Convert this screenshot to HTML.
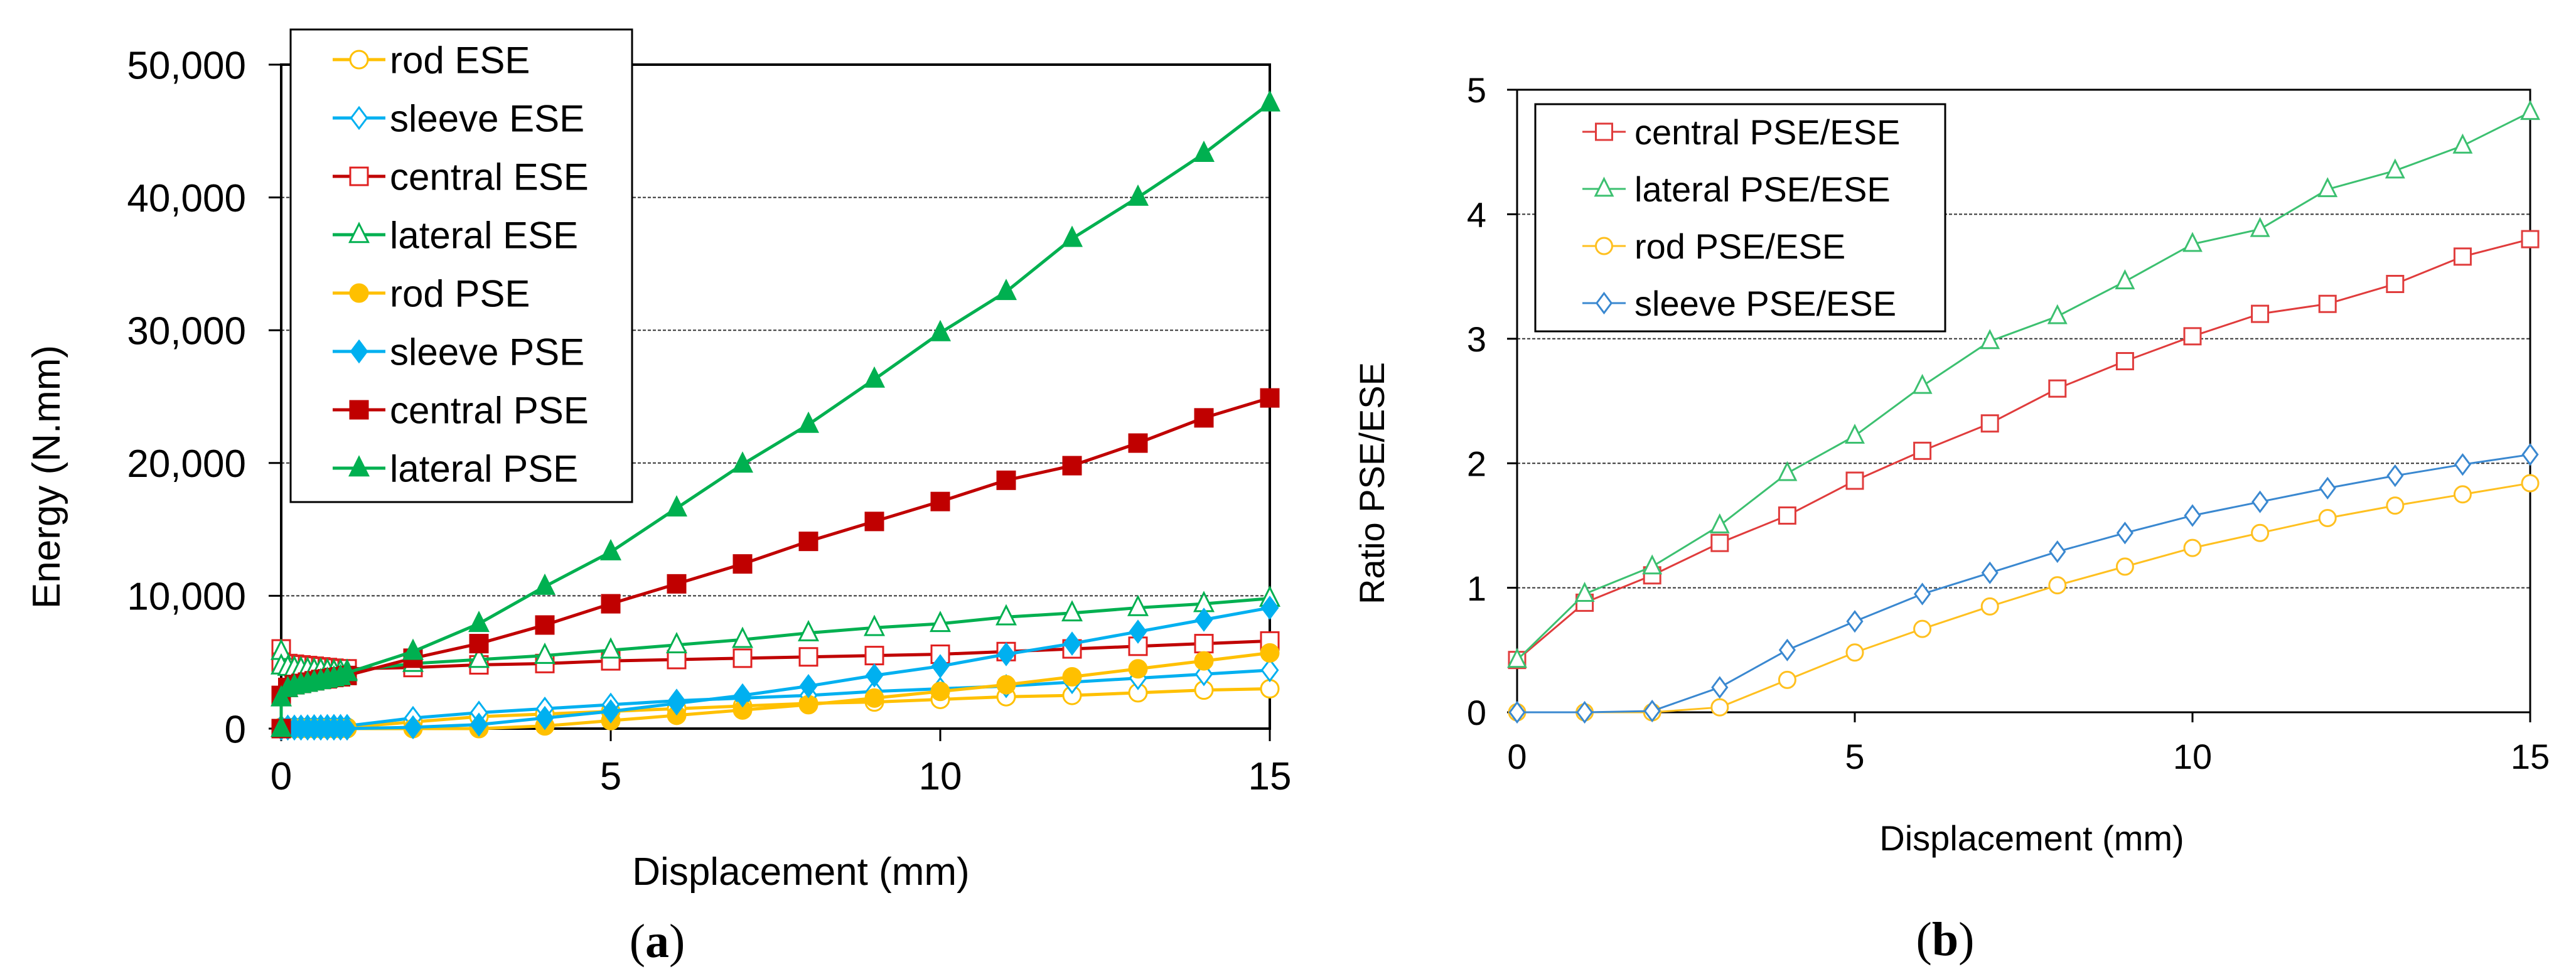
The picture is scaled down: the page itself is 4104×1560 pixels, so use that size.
<!DOCTYPE html>
<html><head><meta charset="utf-8"><style>
html,body{margin:0;padding:0;background:#fff;}
svg{display:block;font-family:"Liberation Sans",Arial,sans-serif;}
</style></head><body>
<svg id="fig" width="4104" height="1560" viewBox="0 0 4104 1560" xmlns="http://www.w3.org/2000/svg">
<g id="chartA"></g>
<g id="chartB"></g>
<text x="1047" y="1525" font-family="Liberation Serif,serif" font-size="76" text-anchor="middle">(<tspan font-weight="bold">a</tspan>)</text>
<text x="3099" y="1522" font-family="Liberation Serif,serif" font-size="76" text-anchor="middle">(<tspan font-weight="bold">b</tspan>)</text>
</svg>
<script>
// ---- Chart A data ----
const xA = [0,0,0.1,0.2,0.3,0.4,0.5,0.6,0.7,0.8,0.9,1,2,3,4,5,6,7,8,9,10,11,12,13,14,15];
const rodESE     = [0,100,100,100,100,100,100,100,100,100,100,100,500,900,1100,1300,1500,1700,1900,2000,2200,2400,2500,2700,2900,3000];
const sleeveESE  = [0,150,150,150,160,170,180,180,190,200,200,200,800,1200,1500,1800,2100,2300,2500,2800,3000,3200,3500,3800,4100,4400];
const centralESE = [6000,5000,4900,4850,4800,4750,4700,4650,4600,4550,4500,4500,4600,4800,4900,5100,5200,5300,5400,5500,5600,5800,6000,6200,6400,6600];
const lateralESE = [5800,4700,4600,4550,4500,4450,4400,4400,4350,4300,4300,4300,4900,5200,5500,5900,6300,6700,7200,7600,7900,8400,8700,9100,9400,9800];
const rodPSE     = [0,0,0,0,0,0,0,0,0,0,0,0,0,0,200,600,1000,1400,1800,2300,2800,3300,3900,4500,5100,5700];
const sleevePSE  = [0,0,0,0,0,0,0,0,0,0,0,0,100,300,800,1300,1900,2500,3200,4000,4700,5600,6400,7300,8200,9100];
const centralPSE = [0,2500,3100,3300,3400,3500,3600,3700,3750,3850,3900,4000,5300,6400,7800,9400,10900,12400,14100,15600,17100,18700,19800,21500,23400,24900];
const lateralPSE = [0,2300,3000,3200,3300,3400,3500,3600,3700,3800,3900,4200,5800,7900,10700,13300,16600,19900,22900,26300,29800,32900,36900,40000,43300,47100];
const yTicksA = ["0","10,000","20,000","30,000","40,000","50,000"];
const yTickValsA = [0,10000,20000,30000,40000,50000];
const xTicksA = [0,5,10,15];
// ---- Chart B data ----
const xB = [0,1,2,3,4,5,6,7,8,9,10,11,12,13,14,15];
const centralRatio = [0.42,0.88,1.1,1.36,1.58,1.86,2.1,2.32,2.6,2.82,3.02,3.2,3.28,3.44,3.66,3.8];
const lateralRatio = [0.42,0.95,1.17,1.5,1.92,2.22,2.62,2.98,3.18,3.46,3.76,3.88,4.2,4.35,4.55,4.82];
const rodRatio     = [0,0,0,0.04,0.26,0.48,0.67,0.85,1.02,1.17,1.32,1.44,1.56,1.66,1.75,1.84];
const sleeveRatio  = [0,0,0.01,0.2,0.5,0.73,0.95,1.12,1.29,1.44,1.58,1.69,1.8,1.9,1.99,2.07];
const yTicksB = [0,1,2,3,4,5];
const xTicksB = [0,5,10,15];

const NS="http://www.w3.org/2000/svg";
function mk(parent,tag,attrs){const e=document.createElementNS(NS,tag);for(const k in attrs)e.setAttribute(k,attrs[k]);parent.appendChild(e);return e;}

function marker(g,shape,cx,cy,s,color,filled,sw){
  let e;
  const fill=filled?color:"#fff";
  if(shape==="circle"){e=mk(g,"circle",{cx:cx,cy:cy,r:s/2,fill:fill,stroke:color,"stroke-width":sw});}
  else if(shape==="square"){e=mk(g,"rect",{x:cx-s/2,y:cy-s/2,width:s,height:s,fill:fill,stroke:color,"stroke-width":sw});}
  else if(shape==="diamond"){e=mk(g,"polygon",{points:`${cx},${cy-s*0.6} ${cx+s*0.45},${cy} ${cx},${cy+s*0.6} ${cx-s*0.45},${cy}`,fill:fill,stroke:color,"stroke-width":sw});}
  else {e=mk(g,"polygon",{points:`${cx},${cy-s*0.62} ${cx+s*0.52},${cy+s*0.42} ${cx-s*0.52},${cy+s*0.42}`,fill:fill,stroke:color,"stroke-width":sw});}
  
  
  return e;
}

function drawChart(root,cfg){
  const {L,R,T,B,xMax,yMax}=cfg;
  const sx=v=>L+(R-L)*v/xMax, sy=v=>B-(B-T)*v/yMax;
  // grid
  cfg.yVals.forEach((v,i)=>{
    const y=sy(v);
    if(v>0&&v<yMax){const gl=mk(root,"line",{x1:L,x2:R,y1:y,y2:y,stroke:"#333","stroke-width":2,"stroke-dasharray":"5,3"});
      
      }
    const tk=mk(root,"line",{x1:L-cfg.tick,x2:L,y1:y,y2:y,stroke:"#000","stroke-width":3});
    
    
    const t=mk(root,"text",{x:cfg.yLabelX,y:y+cfg.yFont*0.36,"font-size":cfg.yFont,"text-anchor":"end",fill:"#000"});
    t.textContent=cfg.yLabels[i];
    
    
  });
  const frame=mk(root,"rect",{x:L,y:T,width:R-L,height:B-T,fill:"none",stroke:"#000","stroke-width":cfg.frameW});
  
  
  cfg.xTicks.forEach(v=>{
    const x=sx(v);
    const tk=mk(root,"line",{x1:x,x2:x,y1:B,y2:B+cfg.tick,stroke:"#000","stroke-width":3});
    
    
    const t=mk(root,"text",{x:x,y:cfg.xLabelY,"font-size":cfg.xFont,"text-anchor":"middle"});
    t.textContent=String(v);
    
    
  });
  // series
  cfg.series.forEach(s=>{
    const g=mk(root,"g",{});
    
    
    const pts=s.y.map((v,i)=>sx(s.x[i])+","+sy(v)).join(" ");
    const pl=mk(g,"polyline",{points:pts,fill:"none",stroke:s.color,"stroke-width":cfg.lineW,"stroke-linejoin":"round"});
    
    
    s.y.forEach((v,i)=>marker(g,s.shape,sx(s.x[i]),sy(v),cfg.ms,s.mcolor||s.color,s.filled,cfg.msw));
  });
  // legend
  const lg=mk(root,"g",{});
  
  
  const lb=mk(lg,"rect",{x:cfg.lg.x,y:cfg.lg.y,width:cfg.lg.w,height:cfg.lg.h,fill:"#fff",stroke:"#000","stroke-width":3});
  
  
  cfg.series.forEach((s,i)=>{
    const y=cfg.lg.y0+i*cfg.lg.dy;
    const e=mk(lg,"g",{});
    
    
    mk(e,"line",{x1:cfg.lg.lx1,x2:cfg.lg.lx2,y1:y,y2:y,stroke:s.color,"stroke-width":cfg.lineW});
    marker(e,s.shape,(cfg.lg.lx1+cfg.lg.lx2)/2,y,cfg.ms,s.mcolor||s.color,s.filled,cfg.msw);
    const t=mk(e,"text",{x:cfg.lg.tx,y:y+cfg.lg.font*0.36,"font-size":cfg.lg.font,"font-family":"Liberation Sans Narrow,Liberation Sans,sans-serif"});
    t.textContent=s.name;
    
    
  });
  // axis titles
  const xt=mk(root,"text",{x:cfg.xTitle[0],y:cfg.xTitle[1],"font-size":cfg.titleFont,"text-anchor":"middle","font-family":"Liberation Sans Narrow,Liberation Sans,sans-serif"});
  xt.textContent="Displacement (mm)";
  
  
  const yt=mk(root,"text",{x:cfg.yTitle[0],y:cfg.yTitle[1],"font-size":cfg.titleFont,"text-anchor":"middle",transform:`rotate(-90 ${cfg.yTitle[0]} ${cfg.yTitle[1]})`});
  yt.textContent=cfg.yTitleText;
  
  
}

const Y="#ffc000",BL="#00b0f0",RD="#c00000",GR="#00b050";
drawChart(document.getElementById("chartA"),{
  L:448,R:2023,T:103,B:1161,xMax:15,yMax:50000,tick:20,frameW:4,
  yVals:yTickValsA,yLabels:yTicksA,yLabelX:392,yFont:62,xTicks:xTicksA,xLabelY:1258,xFont:62,
  lineW:5,ms:28,msw:3,
  series:[
    {name:"rod ESE",x:xA,y:rodESE,color:Y,shape:"circle",filled:false},
    {name:"sleeve ESE",x:xA,y:sleeveESE,color:BL,shape:"diamond",filled:false},
    {name:"central ESE",x:xA,y:centralESE,color:RD,mcolor:"#e02020",shape:"square",filled:false},
    {name:"lateral ESE",x:xA,y:lateralESE,color:GR,shape:"triangle",filled:false},
    {name:"rod PSE",x:xA,y:rodPSE,color:Y,shape:"circle",filled:true},
    {name:"sleeve PSE",x:xA,y:sleevePSE,color:BL,shape:"diamond",filled:true},
    {name:"central PSE",x:xA,y:centralPSE,color:RD,shape:"square",filled:true},
    {name:"lateral PSE",x:xA,y:lateralPSE,color:GR,shape:"triangle",filled:true}
  ],
  lg:{x:463,y:47,w:544,h:753,y0:95,dy:93,lx1:530,lx2:614,tx:621,font:60},
  xTitle:[1276,1410],yTitle:[95,760],titleFont:62,yTitleText:"Energy (N.mm)"
});
drawChart(document.getElementById("chartB"),{
  L:2417,R:4031,T:143,B:1135,xMax:15,yMax:5,tick:16,frameW:3,
  yVals:yTicksB,yLabels:yTicksB.map(String),yLabelX:2368,yFont:56,xTicks:xTicksB,xLabelY:1225,xFont:56,
  lineW:3,ms:26,msw:3,
  series:[
    {name:"central PSE/ESE",x:xB,y:centralRatio,color:"#e03c3c",shape:"square",filled:false},
    {name:"lateral PSE/ESE",x:xB,y:lateralRatio,color:"#3cc070",shape:"triangle",filled:false},
    {name:"rod PSE/ESE",x:xB,y:rodRatio,color:"#ffc020",shape:"circle",filled:false},
    {name:"sleeve PSE/ESE",x:xB,y:sleeveRatio,color:"#3a88d0",shape:"diamond",filled:false}
  ],
  lg:{x:2446,y:166,w:653,h:362,y0:210,dy:91,lx1:2521,lx2:2590,tx:2604,font:56},
  xTitle:[3237,1355],yTitle:[2205,770],titleFont:56,yTitleText:"Ratio  PSE/ESE"
});
</script>
</body></html>
